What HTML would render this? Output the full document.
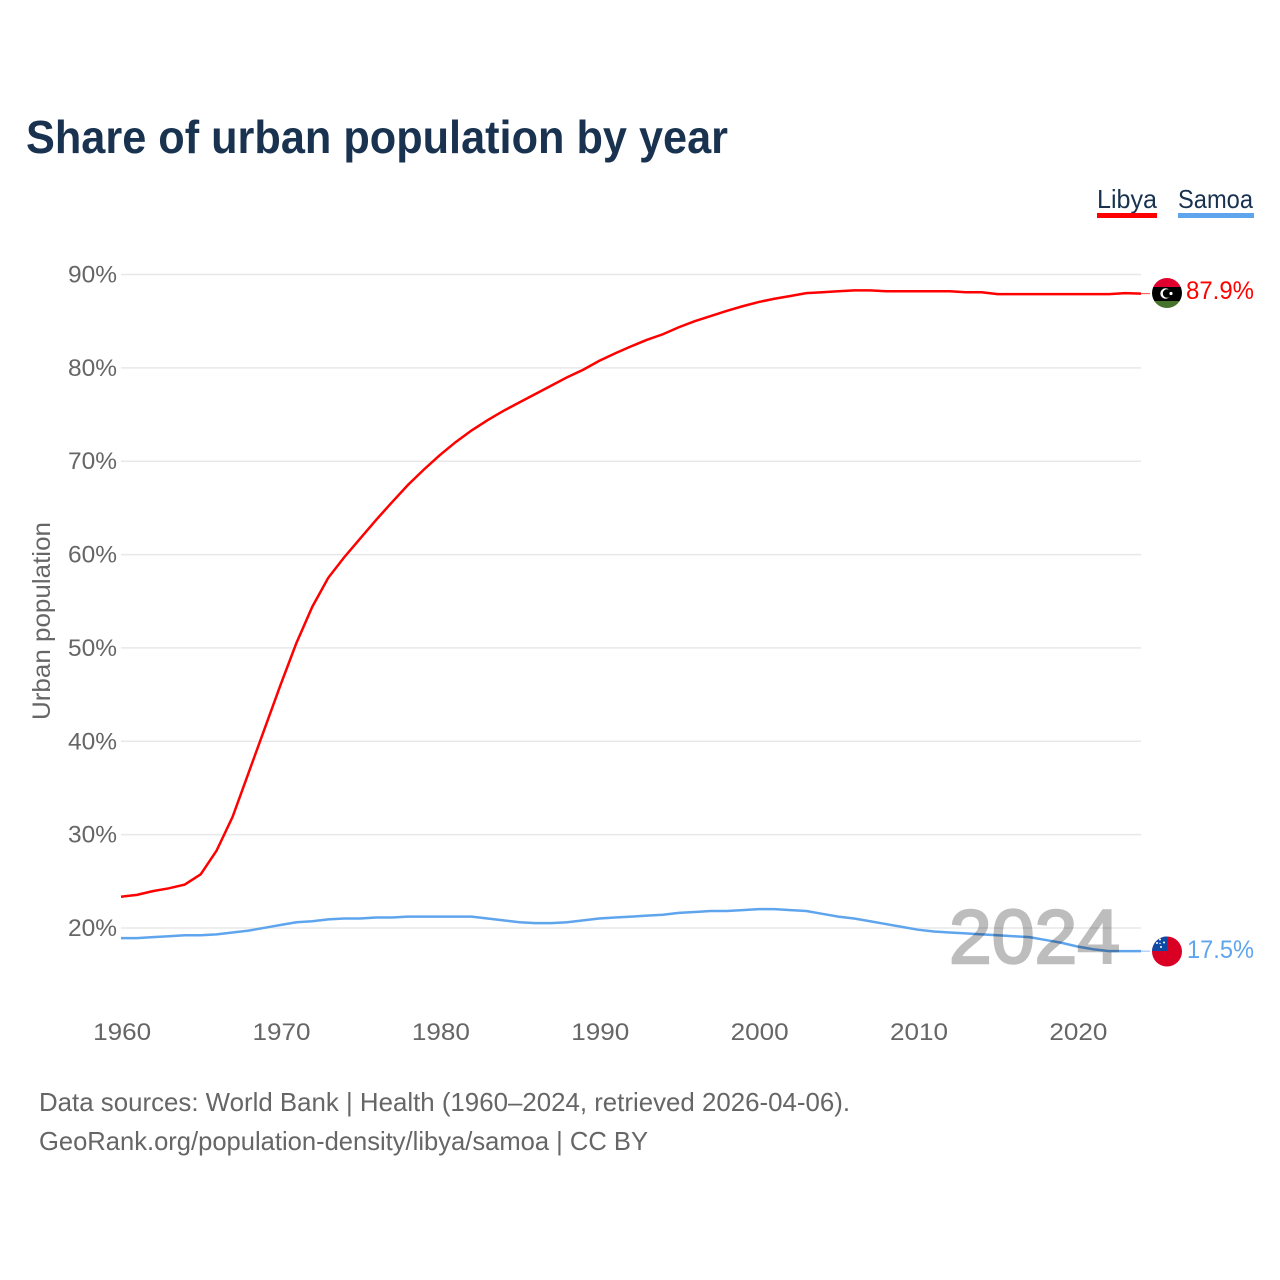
<!DOCTYPE html>
<html lang="en">
<head>
<meta charset="utf-8">
<title>Share of urban population by year</title>
<style>
html,body{margin:0;padding:0;background:#fff;width:1280px;height:1280px;overflow:hidden}
svg{display:block}
text{font-family:"Liberation Sans",sans-serif}
</style>
</head>
<body>
<svg id="chart" xmlns="http://www.w3.org/2000/svg" width="1280" height="1280" viewBox="0 0 1280 1280">
  <rect x="0" y="0" width="1280" height="1280" fill="#fff"/>
  <text x="26" y="153" font-size="46" font-weight="700" fill="#18324f" textLength="702" lengthAdjust="spacingAndGlyphs">Share of urban population by year</text>

  <g>
    <text x="1097" y="208" font-size="26" fill="#18324f" textLength="60" lengthAdjust="spacingAndGlyphs">Libya</text>
    <rect x="1097" y="213" width="60" height="5" fill="#ff0000"/>
  </g>
  <g>
    <text x="1178" y="208" font-size="26" fill="#18324f" textLength="75" lengthAdjust="spacingAndGlyphs">Samoa</text>
    <rect x="1178" y="213" width="76" height="5" fill="#5fa5ee"/>
  </g>

  <g id="grid"></g>
  <g id="yticks"></g>
  <g id="xticks"></g>
  <text transform="translate(50,621) rotate(-90)" text-anchor="middle" font-size="25" fill="#666" textLength="198" lengthAdjust="spacingAndGlyphs">Urban population</text>

  <g id="series"></g>
  <text x="949" y="963" font-size="76" fill="#bdbdbd" stroke="#bdbdbd" stroke-width="2.4" style="mix-blend-mode:multiply" textLength="171" lengthAdjust="spacingAndGlyphs">2024</text>

  <defs>
    <clipPath id="clip-libya"><circle id="clip-libya-circle" cx="1167" cy="293" r="15"/></clipPath>
    <clipPath id="clip-samoa"><circle id="clip-samoa-circle" cx="1167" cy="951.5" r="15"/></clipPath>
  </defs>

  <g id="flag-libya" clip-path="url(#clip-libya)">
    <rect x="1150" y="277" width="34" height="10" fill="#e2002f"/>
    <rect x="1150" y="287" width="34" height="14" fill="#000"/>
    <rect x="1150" y="301" width="34" height="9" fill="#46742c"/>
    <circle cx="1165.5" cy="293.5" r="5.2" fill="#fff"/>
    <circle cx="1167" cy="293.5" r="4.2" fill="#000"/>
    <circle cx="1171" cy="293.5" r="1.6" fill="#fff"/>
  </g>
  <g id="flag-samoa" clip-path="url(#clip-samoa)">
    <rect x="1150" y="935" width="34" height="34" fill="#da0024"/>
    <rect x="1150" y="935" width="17" height="16" fill="#0d4aa6"/>
    <circle cx="1160" cy="939.5" r="1" fill="#fff"/>
    <circle cx="1164" cy="942.5" r="1" fill="#fff"/>
    <circle cx="1157" cy="943" r="1" fill="#fff"/>
    <circle cx="1161" cy="947" r="1" fill="#fff"/>
    <circle cx="1160" cy="943.5" r="0.7" fill="#fff"/>
  </g>

  <text id="value-libya" x="1186" y="299" font-size="25" fill="#ff0000" textLength="68" lengthAdjust="spacingAndGlyphs">87.9%</text>
  <text id="value-samoa" x="1187" y="958" font-size="25" fill="#5fa5ee" textLength="67" lengthAdjust="spacingAndGlyphs">17.5%</text>

  <text x="39" y="1111" font-size="26" fill="#666" textLength="811" lengthAdjust="spacingAndGlyphs">Data sources: World Bank | Health (1960–2024, retrieved 2026-04-06).</text>
  <text x="39" y="1150" font-size="26" fill="#666" textLength="609" lengthAdjust="spacingAndGlyphs">GeoRank.org/population-density/libya/samoa | CC BY</text>
</svg>
<script>
var years = [1960,1961,1962,1963,1964,1965,1966,1967,1968,1969,1970,1971,1972,1973,1974,1975,1976,1977,1978,1979,1980,1981,1982,1983,1984,1985,1986,1987,1988,1989,1990,1991,1992,1993,1994,1995,1996,1997,1998,1999,2000,2001,2002,2003,2004,2005,2006,2007,2008,2009,2010,2011,2012,2013,2014,2015,2016,2017,2018,2019,2020,2021,2022,2023,2024];
var libyaValues = [23.35,23.55,23.95,24.25,24.65,25.75,28.3,31.9,36.6,41.3,46.0,50.5,54.4,57.5,59.7,61.7,63.7,65.6,67.45,69.1,70.65,72.05,73.3,74.4,75.4,76.3,77.2,78.1,79.0,79.8,80.75,81.55,82.3,83.0,83.6,84.35,85.0,85.55,86.1,86.6,87.05,87.4,87.7,88.0,88.1,88.2,88.3,88.3,88.2,88.2,88.2,88.2,88.2,88.1,88.1,87.9,87.9,87.9,87.9,87.9,87.9,87.9,87.9,88.0,87.95];
var samoaValues = [18.92,18.92,19.02,19.12,19.22,19.22,19.32,19.52,19.72,20.02,20.32,20.62,20.72,20.92,21.02,21.02,21.12,21.12,21.22,21.22,21.22,21.22,21.22,21.02,20.82,20.62,20.52,20.52,20.62,20.82,21.02,21.12,21.22,21.32,21.42,21.62,21.72,21.82,21.82,21.92,22.02,22.02,21.92,21.82,21.52,21.22,21.02,20.72,20.42,20.12,19.82,19.62,19.52,19.42,19.32,19.22,19.12,19.02,18.72,18.42,18.02,17.72,17.52,17.52,17.52];
var yTickValues = [20,30,40,50,60,70,80,90];
var yTickLabels = ["20%","30%","40%","50%","60%","70%","80%","90%"];
var xTickValues = [1960,1970,1980,1990,2000,2010,2020];
var xTickLabels = ["1960","1970","1980","1990","2000","2010","2020"];

var NS = 'http://www.w3.org/2000/svg';
function xScale(year) { return 121 + (year - 1960) * (1141 - 121) / 64; }
function yScale(pct) { return 928 - (pct - 20) * (928 - 274.5) / 70; }

var grid = document.getElementById('grid');
var yticks = document.getElementById('yticks');
var xticks = document.getElementById('xticks');
var series = document.getElementById('series');

yTickValues.forEach(function (v, i) {
  var line = document.createElementNS(NS, 'line');
  
  
  line.setAttribute('x1', 121);
  line.setAttribute('x2', 1141);
  line.setAttribute('y1', yScale(v));
  line.setAttribute('y2', yScale(v));
  line.setAttribute('stroke', '#e8e8e8');
  line.setAttribute('stroke-width', '1.5');
  grid.appendChild(line);

  var t = document.createElementNS(NS, 'text');
  
  
  t.setAttribute('x', 117);
  t.setAttribute('y', yScale(v) + 8);
  t.setAttribute('text-anchor', 'end');
  t.setAttribute('font-size', '24');
  t.setAttribute('fill', '#666');
  t.setAttribute('textLength', '49');
  t.setAttribute('lengthAdjust', 'spacingAndGlyphs');
  t.textContent = yTickLabels[i];
  yticks.appendChild(t);
});

xTickValues.forEach(function (v, i) {
  var t = document.createElementNS(NS, 'text');
  
  
  t.setAttribute('x', xScale(v) + 1.2);
  t.setAttribute('y', 1040);
  t.setAttribute('text-anchor', 'middle');
  t.setAttribute('font-size', '24');
  t.setAttribute('fill', '#666');
  t.setAttribute('textLength', '58');
  t.setAttribute('lengthAdjust', 'spacingAndGlyphs');
  t.textContent = xTickLabels[i];
  xticks.appendChild(t);
});

function pathFor(values) {
  return values.map(function (v, i) {
    return (i ? 'L' : 'M') + xScale(years[i]).toFixed(2) + ' ' + yScale(v).toFixed(2);
  }).join(' ');
}

var samoaLine = document.createElementNS(NS, 'path');


samoaLine.setAttribute('d', pathFor(samoaValues));
samoaLine.setAttribute('fill', 'none');
samoaLine.setAttribute('stroke', '#5fa5ee');
samoaLine.setAttribute('stroke-width', '2.5');
series.appendChild(samoaLine);

var libyaLine = document.createElementNS(NS, 'path');


libyaLine.setAttribute('d', pathFor(libyaValues));
libyaLine.setAttribute('fill', 'none');
libyaLine.setAttribute('stroke', '#ff0000');
libyaLine.setAttribute('stroke-width', '2.5');
series.appendChild(libyaLine);

var libyaConnector = document.createElementNS(NS, 'line');


libyaConnector.setAttribute('x1', xScale(2024));
libyaConnector.setAttribute('x2', 1150);
libyaConnector.setAttribute('y1', yScale(libyaValues[libyaValues.length - 1]));
libyaConnector.setAttribute('y2', yScale(libyaValues[libyaValues.length - 1]));
libyaConnector.setAttribute('stroke', '#ff0000');
libyaConnector.setAttribute('stroke-width', '1');
libyaConnector.setAttribute('opacity', '0.7');
series.appendChild(libyaConnector);

var samoaConnector = document.createElementNS(NS, 'line');


samoaConnector.setAttribute('x1', xScale(2024));
samoaConnector.setAttribute('x2', 1150);
samoaConnector.setAttribute('y1', yScale(samoaValues[samoaValues.length - 1]));
samoaConnector.setAttribute('y2', yScale(samoaValues[samoaValues.length - 1]));
samoaConnector.setAttribute('stroke', '#5fa5ee');
samoaConnector.setAttribute('stroke-width', '1');
samoaConnector.setAttribute('opacity', '0.7');
series.appendChild(samoaConnector);
</script>
</body>
</html>
